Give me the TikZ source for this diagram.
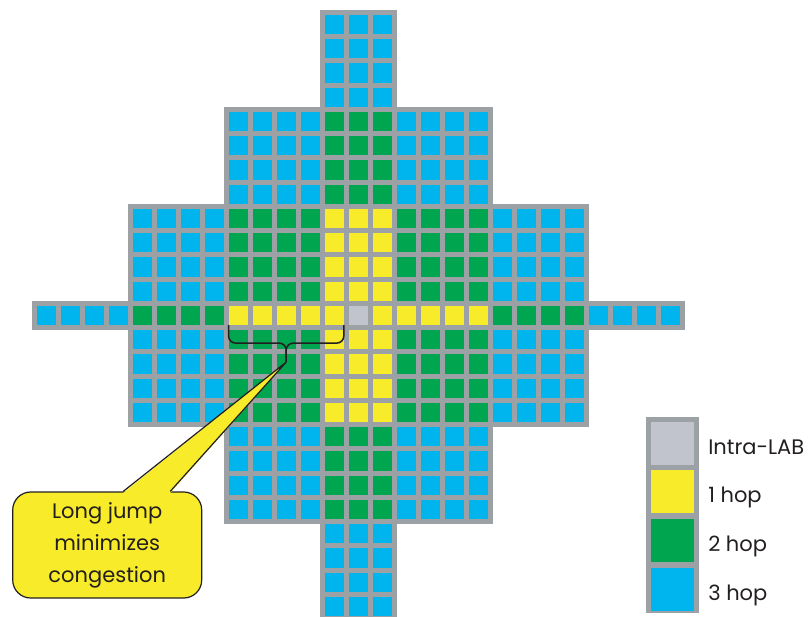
\documentclass[tikz,border=0pt]{standalone}
\usepackage{fontspec}
\setmainfont{Poppins}
\definecolor{hop0}{HTML}{C1C4CC}
\definecolor{hop1}{HTML}{F8EB29}
\definecolor{hop2}{HTML}{00A54F}
\definecolor{hop3}{HTML}{00B5EE}
\definecolor{frame}{HTML}{9CA1A6}
\definecolor{ink}{HTML}{231F20}

\begin{document}
\begin{tikzpicture}[x=24pt,y=24.25pt,
  cell/.style={minimum size=19.2pt,inner sep=0pt,outer sep=0pt},
  swatch/.style={minimum size=43pt,inner sep=0pt,outer sep=0pt},
  lbl/.style={anchor=base west,inner sep=0pt,text=ink,font={\fontsize{21}{32}\selectfont}},
  note/.style={draw=ink,line width=1.2pt,fill=hop1,rounded corners=18pt,minimum width=189pt,minimum height=106pt,align=center,inner sep=0pt,text=ink,font={\fontsize{21}{32}\selectfont}},
  bracket/.style={draw=ink,line width=1.5pt,rounded corners=7pt}]
  \useasboundingbox (-14.925,13.01) rectangle (18.783,-12.392);
  % grey frame behind the LABs
  \foreach \w/\h in {13/0,9/4,5/8,1/12}
    \fill[frame] (-\w-0.6,-\h-0.6) rectangle (\w+0.6,\h+0.6);
  % LABs, coloured by hop count from the centre
  \foreach \cy in {-12,...,12}
    \foreach \cx in {-13,...,13}{
      \pgfmathtruncatemacro\ax{abs(\cx)}
      \pgfmathtruncatemacro\ay{abs(\cy)}
      \pgfmathtruncatemacro\on{(\ay==0)||((\ay<=4)&&(\ax<=9))||((\ay<=8)&&(\ax<=5))||(\ax<=1)}
      \pgfmathtruncatemacro\hop{ifthenelse(\ax+\ay==0,0,ifthenelse(((\ay==0)&&(\ax<=5))||((\ax<=1)&&(\ay<=4)),1,ifthenelse(((\ay==0)&&(\ax<=9))||((\ax<=1)&&(\ay<=8))||((\ax<=5)&&(\ay<=4)),2,3)))}
      \ifnum\on=1 \node[cell,fill=hop\hop] (c\cx r\cy) at (\cx,\cy) {};\fi
    }
  % long jump
  \coordinate (jump) at ([yshift=-37pt]c-3r0.south);
  \draw[bracket] (c-5r0.south west) -- ++(0,-18pt) -| (jump);
  \draw[bracket] (c-1r0.south east) -- ++(0,-18pt) -| (jump);
  \node[note] (note) at (-10.458,-9.464) {Long jump\\minimizes\\congestion};
  \fill[hop1] ([xshift=16pt,yshift=-1.5pt]note.north) -- (jump) -- ([xshift=63pt,yshift=-1.5pt]note.north) -- cycle;
  \draw[ink,line width=1.2pt] ([xshift=16pt]note.north) -- (jump) -- ([xshift=63pt]note.north);
  % legend
  \node[fill=frame,minimum width=53pt,minimum height=196pt,inner sep=0pt] (key) at (13.096,-8.227) {};
  \foreach \k in {0,...,3}
    \node[swatch,fill=hop\k] (k\k) at (13.1,-5.27-2.008*\k) {};
  \foreach \k/\t in {0/Intra-LAB,1/1 hop,2/2 hop,3/3 hop}
    \node[lbl] (t\k) at ([xshift=14pt,yshift=-11pt]k\k.east) {\t};
\end{tikzpicture}
\end{document}
